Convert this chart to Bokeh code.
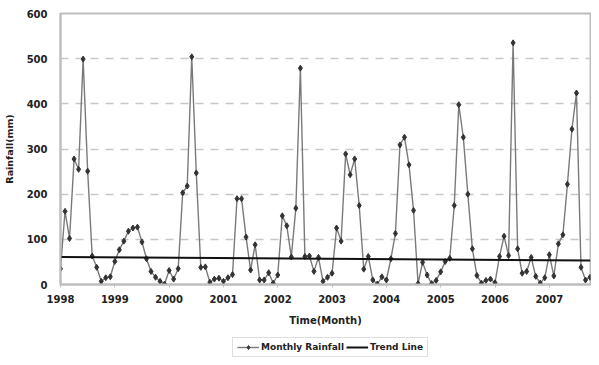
from bokeh.plotting import figure
from bokeh.layouts import column
from bokeh.models import FixedTicker, Legend, LegendItem, Range1d
from bokeh.embed import file_html
from bokeh.resources import INLINE

years = ["1998", "1999", "2000", "2001", "2002", "2003", "2004", "2005", "2006", "2007"]

rain_1998 = [35, 162, 102, 278, 255, 499, 251, 63, 38, 7, 15, 17]
rain_1999 = [51, 77, 96, 118, 125, 127, 94, 57, 29, 16, 7, 1]
rain_2000 = [31, 12, 35, 203, 218, 504, 247, 38, 39, 5, 12, 14]
rain_2001 = [7, 15, 22, 190, 190, 105, 32, 88, 10, 10, 26, 3]
rain_2002 = [21, 152, 130, 61, 169, 479, 62, 63, 29, 60, 7, 16]
rain_2003 = [25, 125, 96, 289, 243, 278, 175, 34, 62, 10, 1, 17]
rain_2004 = [10, 57, 113, 309, 326, 265, 164, 2, 49, 21, 2, 9]
rain_2005 = [28, 51, 58, 175, 398, 326, 200, 79, 20, 3, 9, 12]
rain_2006 = [4, 62, 107, 64, 535, 79, 25, 29, 60, 18, 3, 15]
rain_2007 = [66, 19, 90, 110, 222, 344, 424, 38, 10, 16]

rainfall = (rain_1998 + rain_1999 + rain_2000 + rain_2001 + rain_2002 +
            rain_2003 + rain_2004 + rain_2005 + rain_2006 + rain_2007)
months = list(range(len(rainfall)))

trend_start = 61
trend_end = 53
y_ticks = [0, 100, 200, 300, 400, 500, 600]

FONT = "DejaVu Sans"
TXT = "#222222"
SERIES_STYLE = dict(line_color="#7a7a7a", line_width=1.4)
MARK_STYLE = dict(marker="diamond", size=6, fill_color="#333333", line_color="#333333")
TREND_STYLE = dict(line_color="#111111", line_width=2)

p = figure(width=591, height=334, output_backend="svg", toolbar_location=None,
           x_range=Range1d(0, len(rainfall) - 0.9), y_range=Range1d(0, 600),
           min_border_left=58, min_border_right=1, min_border_top=13, min_border_bottom=50)

p.outline_line_color = "#bdbdbd"
p.outline_line_width = 2
p.background_fill_color = "white"
p.border_fill_color = "white"

p.xgrid.visible = False
p.ygrid.grid_line_color = "#c8c8c8"
p.ygrid.grid_line_dash = "8 7"
p.ygrid.grid_line_width = 1.5
p.ygrid.ticker = FixedTicker(ticks=y_ticks[1:-1])

p.yaxis.ticker = FixedTicker(ticks=y_ticks)
p.xaxis.ticker = FixedTicker(ticks=[12 * i for i in range(len(years))])
p.xaxis.major_label_overrides = {12 * i: y for i, y in enumerate(years)}
for ax in (p.xaxis[0], p.yaxis[0]):
    ax.axis_line_color = "#bdbdbd"
    ax.axis_line_width = 2
    ax.major_tick_line_color = "#bdbdbd"
    ax.minor_tick_line_color = None
    ax.major_label_text_font = FONT
    ax.major_label_text_font_style = "bold"
    ax.major_label_text_font_size = "10px"
    ax.major_label_text_color = TXT
    ax.axis_label_text_font = FONT
    ax.axis_label_text_font_style = "bold"
    ax.axis_label_text_color = TXT

p.yaxis.major_tick_out = 0
p.yaxis.major_tick_in = 0
p.yaxis.major_label_standoff = 13
p.yaxis.axis_label = "Rainfall(mm)"
p.yaxis.axis_label_text_font_size = "9.5px"
p.yaxis.axis_label_standoff = 9

p.xaxis.major_tick_out = 3
p.xaxis.major_tick_in = 0
p.xaxis.major_label_standoff = 7
p.xaxis.axis_label = "Time(Month)"
p.xaxis.axis_label_text_font_size = "10px"
p.xaxis.axis_label_standoff = 9

line_r = p.line(months, rainfall, **SERIES_STYLE)
pts_r = p.scatter(months, rainfall, **MARK_STYLE)
trend_r = p.line([months[0], months[-1]], [trend_start, trend_end], **TREND_STYLE)

# legend strip below the chart: same series drawn outside its visible range,
# so only the legend shows
q = figure(width=591, height=23, output_backend="svg", toolbar_location=None,
           x_range=Range1d(0, 1), y_range=Range1d(-2000, -1999),
           x_axis_type=None, y_axis_type=None,
           min_border_left=0, min_border_right=0, min_border_top=0, min_border_bottom=0)
q.outline_line_color = None
q.xgrid.visible = False
q.ygrid.visible = False
lg_line = q.line(months, rainfall, **SERIES_STYLE)
lg_pts = q.scatter(months, rainfall, **MARK_STYLE)
lg_trend = q.line([months[0], months[-1]], [trend_start, trend_end], **TREND_STYLE)

legend = Legend(items=[LegendItem(label="Monthly Rainfall", renderers=[lg_line, lg_pts]),
                       LegendItem(label="Trend Line", renderers=[lg_trend])],
                orientation="horizontal", location=(172, 0),
                label_text_font=FONT, label_text_font_style="bold",
                label_text_font_size="9px", label_text_color=TXT,
                border_line_color="#bdbdbd", border_line_width=1.5,
                glyph_width=22, glyph_height=10, label_standoff=2, spacing=2,
                padding=4, margin=0, label_height=10)
q.add_layout(legend, "center")

layout = column(p, q, spacing=0)
open("out.html", "w").write(file_html(layout, INLINE))
